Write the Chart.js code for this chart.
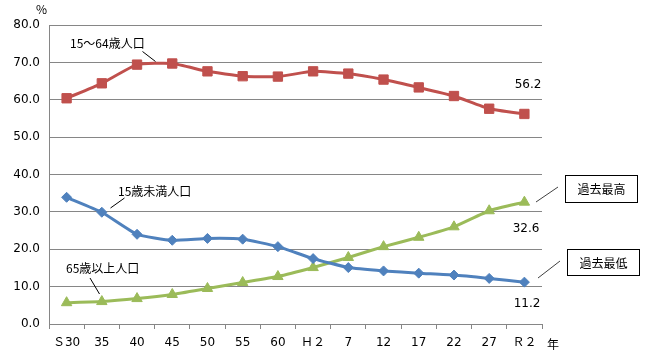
<!DOCTYPE html>
<html><head><meta charset="utf-8">
<script src="https://cdn.jsdelivr.net/npm/chart.js@4/dist/chart.umd.min.js"></script>
<style>html,body{margin:0;padding:0;background:#fff}canvas{display:block}</style>
</head><body>
<canvas id="c" width="645" height="357"></canvas>
<script>
const categories = ['Ｓ30','35','40','45','50','55','60','Ｈ２','7','12','17','22','27','Ｒ２'];
const working = [60.4,64.4,69.4,69.7,67.6,66.3,66.2,67.6,67.0,65.4,63.3,61.0,57.6,56.2];
const children = [33.9,29.9,24.0,22.4,22.9,22.7,20.7,17.5,15.1,14.2,13.6,13.1,12.2,11.2];
const elderly = [5.7,6.0,6.8,7.9,9.5,11.1,12.7,15.1,17.8,20.7,23.2,26.0,30.3,32.6];
const seriesNames = ['15〜64歳人口','15歳未満人口','65歳以上人口'];
const yTicks = [0,10,20,30,40,50,60,70,80];
const boxLabels = ['過去最高','過去最低'];

const JP = '"Noto Sans CJK JP", "DejaVu Sans", sans-serif';
const NUM = '"DejaVu Sans", "Noto Sans CJK JP", sans-serif';

const annot = {
  id: 'annot',
  afterDraw(chart) {
    const ctx = chart.ctx, x = chart.scales.x, y = chart.scales.y;
    const last = categories.length - 1;
    const px = i => x.getPixelForValue(i);
    const py = v => y.getPixelForValue(v);
    ctx.save();
    ctx.fillStyle = '#000';
    ctx.strokeStyle = '#000';
    ctx.lineWidth = 1;
    ctx.textBaseline = 'middle';
    ctx.font = '12px ' + JP;
    ctx.textAlign = 'left';
    ctx.fillText('%', 36, 9);
    ctx.fillText('年', 547, 344);
    ctx.fillText(seriesNames[0], 70, 43);
    ctx.fillText(seriesNames[1], 118, 191);
    ctx.fillText(seriesNames[2], 66, 268);
    const line = (a,b,c,d) => { ctx.beginPath(); ctx.moveTo(a,b); ctx.lineTo(c,d); ctx.stroke(); };
    line(142.5, 51.5, 155.5, 61.5);
    line(110.5, 208, 124.5, 198);
    line(90, 278, 99.5, 294);
    ctx.font = '12px ' + NUM;
    ctx.textAlign = 'right';
    ctx.fillText(working[last].toFixed(1), px(last) + 17, py(working[last]) - 29);
    ctx.fillText(elderly[last].toFixed(1), px(last) + 15, py(elderly[last]) + 27);
    ctx.fillText(children[last].toFixed(1), px(last) + 16, py(children[last]) + 22);
    ctx.font = '12px ' + JP;
    ctx.textAlign = 'center';
    ctx.strokeRect(565.5, 175.5, 72, 27);
    ctx.fillText(boxLabels[0], 601.5, 189);
    ctx.strokeRect(567.5, 249.5, 72, 26);
    ctx.fillText(boxLabels[1], 603.5, 263);
    ctx.strokeStyle = '#404040';
    line(536, 202, 558, 187);
    line(538, 278, 560, 261);
    ctx.restore();
  }
};

new Chart(document.getElementById('c'), {
  type: 'line',
  data: {
    labels: categories,
    datasets: [
      { label: seriesNames[0], data: working, borderColor: '#C0504D', backgroundColor: '#C0504D',
        pointStyle: 'rect', pointRadius: 6.6, borderWidth: 3, pointBorderWidth: 1 },
      { label: seriesNames[1], data: children, borderColor: '#4F81BD', backgroundColor: '#4F81BD',
        pointStyle: 'rectRot', pointRadius: 5, borderWidth: 3, pointBorderWidth: 1 },
      { label: seriesNames[2], data: elderly, borderColor: '#9BBB59', backgroundColor: '#9BBB59',
        pointStyle: 'triangle', pointRadius: 6, borderWidth: 3, pointBorderWidth: 1 }
    ]
  },
  options: {
    responsive: false,
    animation: false,
    devicePixelRatio: 1,
    layout: { padding: { left: 0, top: 25, right: 103, bottom: 0 } },
    elements: { line: { tension: 0.15, cubicInterpolationMode: 'default' } },
    plugins: { legend: { display: false }, tooltip: { enabled: false } },
    scales: {
      x: {
        type: 'category',
        offset: true,
        grid: { display: true, drawOnChartArea: false, drawTicks: true, tickLength: 5, color: '#868686', offset: true },
        border: { display: true, color: '#868686', width: 1 },
        ticks: { color: '#000', font: { family: NUM, size: 12 }, padding: 7, maxRotation: 0, autoSkip: false },
        afterFit(s) { s.height = 33; }
      },
      y: {
        min: 0, max: 80,
        afterBuildTicks(s) { s.ticks = yTicks.map(v => ({ value: v })); },
        grid: { color: '#868686', drawTicks: false, lineWidth: 1 },
        border: { display: true, color: '#868686', width: 1 },
        ticks: { color: '#000', font: { family: NUM, size: 12 }, padding: 9, callback: v => Number(v).toFixed(1) },
        afterFit(s) { s.width = 49; }
      }
    }
  },
  plugins: [annot]
});
</script>
</body></html>
